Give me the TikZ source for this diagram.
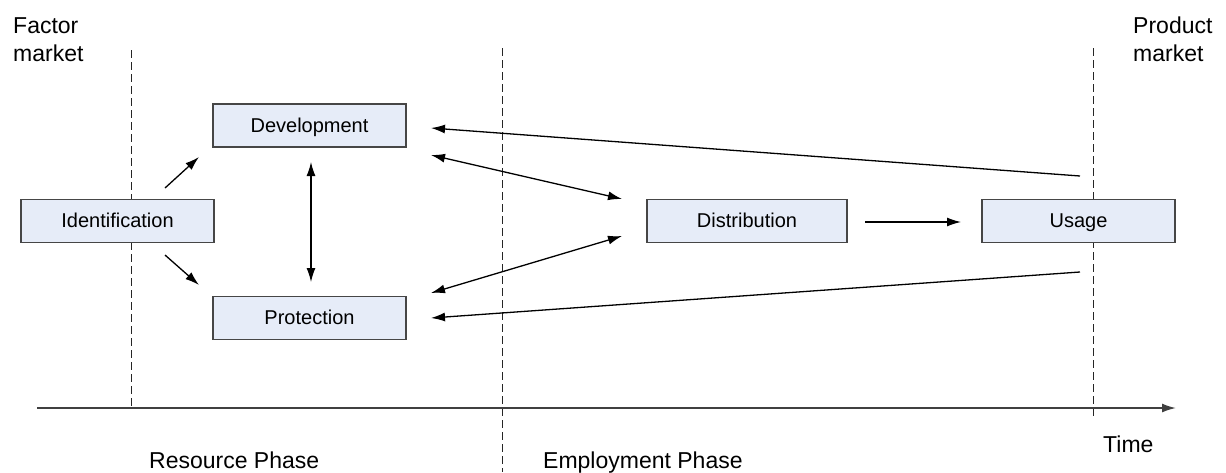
\documentclass[tikz,border=0pt]{standalone}
\usepackage{fontspec}
\setmainfont{Liberation Sans}
\usetikzlibrary{arrows.meta}
\definecolor{boxfill}{RGB}{230,236,248}
\definecolor{boxline}{RGB}{70,70,70}
\begin{document}
\begin{tikzpicture}[x=1pt,y=-1pt,
  stagebox/.style={draw=boxline,fill=boxfill,line width=1.4pt,minimum width=193pt,minimum height=43pt,inner sep=0pt,text height=14pt,text depth=1pt,font=\fontsize{20}{22}\selectfont},
  lbl/.style={anchor=base west,inner sep=0pt,font=\fontsize{23}{26}\selectfont},
  tip/.tip={Latex[length=14pt,width=9pt]},
  conn/.style={line width=1.3pt,-tip},
  bconn/.style={line width=1.3pt,tip-tip},
  phase/.style={line width=1pt,dash pattern=on 8pt off 4pt,black!85}]
\useasboundingbox (0,0) rectangle (1226,472);
% phase lines
\coordinate (l1t) at (131,50); \coordinate (l1b) at (131,408);
\coordinate (l2t) at (502,48); \coordinate (l2b) at (502,472);
\coordinate (l3t) at (1093,48); \coordinate (l3b) at (1093,418);
\draw[phase] (l1t) -- (l1b);
\draw[phase] (l2t) -- (l2b);
\draw[phase] (l3t) -- (l3b);
% time axis
\coordinate (ax0) at (37,408); \coordinate (ax1) at (1176,408);
\draw[line width=1.6pt,black!75,-tip] (ax0) -- (ax1);
% boxes
\node[stagebox] (ident) at (117.5,221) {Identification};
\node[stagebox] (dev) at (309.5,125.5) {Development};
\node[stagebox] (prot) at (309.5,318) {Protection};
\node[stagebox,minimum width=200pt] (dist) at (747,221) {Distribution};
\node[stagebox] (usage) at (1078.5,221) {Usage};
% labels
\node[lbl] (fm1) at (13,33) {Factor};
\node[lbl] (fm2) at (13,61) {market};
\node[lbl] (pm1) at (1133,33) {Product};
\node[lbl] (pm2) at (1133,61) {market};
\node[lbl] (time) at (1103,452) {Time};
\node[lbl] (rp) at (149,468) {Resource Phase};
\node[lbl] (ep) at (543,468) {Employment Phase};
% connectors
\coordinate (a1s) at (165,188); \coordinate (a1e) at (199,157);
\coordinate (a2s) at (165,255); \coordinate (a2e) at (199,285);
\draw[conn] (a1s) -- (a1e);
\draw[conn] (a2s) -- (a2e);
\coordinate (vt) at (311,162); \coordinate (vb) at (311,282);
\draw[bconn] (vt) -- (vb);
\coordinate (dd1) at (431,155); \coordinate (dd2) at (622,199);
\draw[bconn] (dd1) -- (dd2);
\coordinate (pd1) at (431,293); \coordinate (pd2) at (622,236);
\draw[bconn] (pd1) -- (pd2);
\coordinate (du1) at (865,222); \coordinate (du2) at (961,222);
\draw[conn] (du1) -- (du2);
\coordinate (ud1) at (1080,176); \coordinate (ud2) at (431,128);
\draw[conn] (ud1) -- (ud2);
\coordinate (up1) at (1080,272); \coordinate (up2) at (431,318);
\draw[conn] (up1) -- (up2);
\end{tikzpicture}
\end{document}
